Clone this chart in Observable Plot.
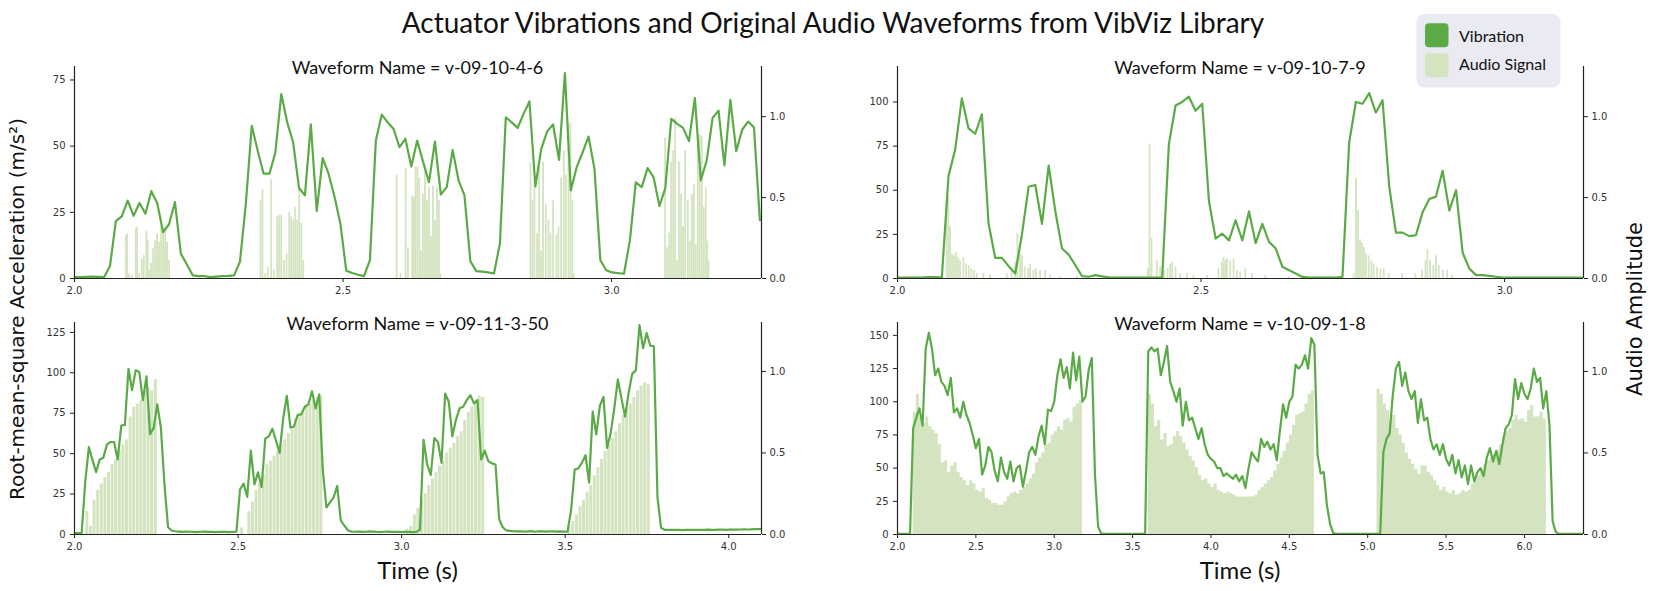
<!DOCTYPE html>
<html><head><meta charset="utf-8">
<script src="https://cdn.jsdelivr.net/npm/d3@7"></script>
<script src="https://cdn.jsdelivr.net/npm/@observablehq/plot@0.6"></script>
<style>
html,body{margin:0;padding:0;background:#fff;}
#root{position:relative;width:1661px;height:591px;overflow:hidden;}
#root svg.plot{position:absolute;}
#overlay{position:absolute;left:0;top:0;pointer-events:none;}
</style></head><body><div id="root"></div>
<script>
// ---------------- DATA ----------------
const panelTitles = ["Waveform Name = v-09-10-4-6", "Waveform Name = v-09-10-7-9", "Waveform Name = v-09-11-3-50", "Waveform Name = v-10-09-1-8"];
const legendLabels = ["Vibration", "Audio Signal"];

// Panel 1 (v-09-10-4-6)
const p1Start = 2.0, p1Step = 0.011;
const p1Vib = [0.5,0.5,0.6,0.7,0.6,0.5,4.6,21.7,23.5,29.4,23.7,28.5,24.5,33.0,28.5,17.5,20.5,28.9,9.4,5.4,
1.2,0.9,0.9,0.5,0.7,0.9,1.0,1.2,6.3,28.3,57.7,48.4,39.6,39.6,47.7,69.7,59.0,51.5,34.2,31.4,
58.2,25.5,45.5,39.6,31.0,20.7,2.9,2.1,1.4,0.9,6.9,52.1,61.9,59.0,56.5,49.6,52.8,42.3,52.1,44,
36.4,51.7,31.7,34.5,48.6,37.1,31.4,6.5,2.8,2.6,2.3,1.9,13.2,60.9,59.0,56.9,62.2,66.9,34.8,49.0,
55.6,58.2,44.8,77.6,33.3,42.1,47.7,53.6,41.5,6.9,3.1,2.3,2.0,1.8,14.4,36.3,34.5,41.7,38.3,27.4,
34.2,60.3,58.4,56.9,51.9,68.2,37.1,44.6,60.7,63.4,42.7,67.5,48.1,56.2,59.3,57.1,22.0];
const p1AudT = [2.0955,2.098,2.1017,2.1066,2.1141,2.1165,2.1203,2.1252,2.129,2.1339,2.1364,2.1389,2.1426,2.1464,2.1501,2.1538,2.1575,2.1612,2.165,2.1687,2.1724,2.1762,
2.3463,2.35,2.355,2.3599,2.3662,2.3711,2.3773,2.381,2.3848,2.3897,2.3947,2.3997,2.4034,2.4072,2.4109,2.4146,2.4183,2.4221,2.4258,
2.5997,2.6071,2.6164,2.6208,2.6288,2.6319,2.635,2.6382,2.6419,2.645,2.6487,2.6524,2.6561,2.6599,2.6636,2.6673,2.6711,2.6748,2.6785,2.681,
2.849,2.8525,2.8562,2.8612,2.865,2.8687,2.8724,2.8774,2.8823,2.8861,2.891,2.8972,2.901,2.9059,2.9109,2.9146,2.9196,2.9233,2.927,2.9295,
3.0996,3.1033,3.107,3.1108,3.1145,3.1182,3.1219,3.1257,3.1294,3.1331,3.1368,3.1418,3.1455,3.1493,3.153,3.1567,3.1604,3.1641,3.1679,3.1716,3.1753,3.1778,3.1803];
const p1AudA = [0.265,0.276,0.03,0.02,0.306,0.316,0.03,0.122,0.143,0.292,0.235,0.05,0.092,0.184,0.235,0.276,0.224,0.337,0.286,0.316,0.224,0.112,
0.48,0.55,0.03,0.07,0.61,0.05,0.38,0.39,0.39,0.11,0.15,0.41,0.38,0.36,0.44,0.36,0.56,0.34,0.11,
0.64,0.03,0.68,0.19,0.51,0.5,0.69,0.69,0.62,0.17,0.52,0.70,0.48,0.56,0.26,0.57,0.36,0.56,0.48,0.03,
0.71,0.48,0.6,0.28,0.72,0.17,0.72,0.46,0.36,0.28,0.48,0.27,0.32,0.62,0.79,0.64,0.96,0.96,0.48,0.03,
0.87,0.19,0.28,0.72,0.79,0.99,0.11,0.72,0.52,0.32,0.79,0.48,0.23,0.52,0.58,0.21,0.89,0.89,0.88,0.44,0.56,0.23,0.11];

// Panel 2 (v-09-10-7-9)
const p2Start = 1.996, p2Step = 0.011;
const p2Vib = [0.5,0.5,0.5,0.5,0.5,0.8,0.8,0.5,58,73,102,85,82,93,31,11.7,11.7,7,2.8,25,
52,53,31,64,38,17,13.5,7.5,1.3,1.0,1.9,1.2,0.6,0.5,0.5,0.5,0.5,0.5,0.5,0.5,
0.5,76,98,100,103,95,99,44,22.6,25.4,21.6,33,21.6,38,20,31,20.7,17,6.6,4.7,
2.8,0.9,0.5,0.5,0.5,0.5,0.5,1,77,100,99,105,94,101,52,26,26,24,24.5,37.6,
45,46.4,61,38.5,50,14.5,5.6,1.9,1.9,1.5,1.0,0.5,0.5,0.5,0.5,0.5,0.5,0.5,0.5,0.5,
0.5,0.5,0.5,0.5];
const p2AudT = [2.081,2.0837,2.0865,2.0898,2.0931,2.0964,2.0997,2.103,2.1085,2.1129,2.1173,2.1217,2.1261,2.1305,2.1415,2.1525,2.18,2.188,2.1937,2.1975,
2.2019,2.2052,2.2096,2.2151,2.2184,2.2239,2.2283,2.2349,2.2432,2.2515,2.268,2.2954,2.3229,2.3503,2.3777,2.4052,2.4124,2.4151,2.4184,2.4272,
2.4327,2.4393,2.4448,2.4492,2.4525,2.458,2.4657,2.4767,2.4876,2.5096,2.5288,2.5343,2.5371,2.5398,2.5426,2.5481,2.5536,2.5591,2.5646,2.5728,
2.5838,2.6058,2.6443,2.6992,2.7514,2.7553,2.7586,2.7619,2.7652,2.7685,2.7718,2.7762,2.7806,2.7844,2.79,2.7954,2.8009,2.8092,2.8312,2.8531,
2.8641,2.8696,2.8729,2.8773,2.8828,2.8872,2.8916,2.8982,2.9053,2.9136,2.9465];
const p2AudA = [0.48,0.51,0.32,0.15,0.14,0.16,0.13,0.11,0.13,0.09,0.08,0.06,0.05,0.03,0.03,0.02,0.03,0.05,0.1,0.28,
0.15,0.14,0.07,0.06,0.09,0.05,0.06,0.05,0.05,0.02,0.01,0.01,0.01,0.01,0.01,0.01,0.06,0.83,0.25,0.11,
0.07,0.05,0.06,0.09,0.1,0.07,0.03,0.03,0.02,0.02,0.06,0.1,0.13,0.11,0.12,0.11,0.12,0.05,0.04,0.06,
0.03,0.02,0.01,0.01,0.03,0.62,0.42,0.24,0.22,0.19,0.15,0.14,0.11,0.09,0.07,0.06,0.06,0.03,0.03,0.03,
0.05,0.11,0.18,0.11,0.08,0.14,0.08,0.05,0.05,0.02,0.01];

// Panel 3 (v-09-11-3-50)
const p3Start = 2.0, p3Step = 0.011;
const p3Vib = [0.8,0.8,1.0,33,54,46,38.6,46.4,47.4,55.6,57.2,57.2,46.4,67.4,67.8,102.5,89.3,101.5,100.5,83.1,
97.8,62.1,65.8,80.5,66.2,31,4.5,2.5,2.0,1.8,1.6,1.8,1.7,1.6,1.5,1.7,1.8,1.6,1.7,1.5,
1.6,1.7,1.6,1.5,1.6,1.7,28,31.5,23.3,51.9,31,38.4,29.4,59.2,60.7,65.4,58,50.5,71.9,85.8,
66.2,66.8,73.9,74.3,79,80.5,88.6,78,86.6,40,16.7,19.8,22.9,30,8.6,5.5,2.5,1.8,1.7,1.8,
1.6,1.7,1.9,1.8,1.6,1.5,1.7,1.8,1.6,1.7,1.6,1.5,1.7,1.6,1.5,1.6,3,58.6,43.3,36.8,
59.6,57.2,44.3,87.2,82.1,60.7,70.9,78,79,83.1,86.2,81.1,83.1,46.4,51.9,45.3,44,43.3,9.6,4.5,
2.5,2.2,2.0,1.9,2.0,1.8,1.9,2.1,1.7,2.0,1.9,1.8,2.0,1.9,1.8,1.9,1.8,1.7,15,40.2,
40.8,44.3,49,32.1,76,61.9,79.7,85,53.5,62.7,78,96,84,72.9,87.8,99.5,101.5,129.5,115.2,124.6,
116.8,116.4,22.9,4.1,2.9,2.9,2.8,2.8,2.9,2.7,2.8,2.8,2.9,2.9,2.8,2.9,3.0,2.9,2.9,3.0,
3.0,2.9,3.0,3.1,3.0,3.1,3.2,3.1,3.2,3.3,3.3,3.4];
const p3Aud = [0,0,0,0.14,0.05,0.21,0.27,0.31,0.35,0.38,0.43,0.46,0.51,0.55,0.58,0.72,0.78,0.80,0.82,0.88,
0.90,0.88,0.95,0,0,0,0,0,0,0,0,0,0,0,0,0,0,0,0,0,
0,0,0,0,0,0,0.04,0,0.14,0.20,0.27,0.31,0.37,0.43,0.45,0.48,0.51,0.55,0.58,0.62,
0.66,0.71,0.74,0.76,0.79,0.80,0.82,0.84,0.85,0,0,0,0,0,0,0,0,0,0,0,
0,0,0,0,0,0,0,0,0,0,0,0,0.03,0.05,0.12,0.16,0.21,0.25,0.30,0.34,
0.38,0.42,0.45,0.50,0.53,0.56,0.60,0.63,0.70,0.75,0.78,0.82,0.85,0.84,0,0,0,0,0,0,
0,0,0,0,0,0,0,0,0,0,0,0,0,0,0,0,0,0.04,0.08,0.12,
0.17,0.21,0.26,0.30,0.36,0.41,0.46,0.51,0.55,0.59,0.63,0.68,0.73,0.77,0.80,0.84,0.88,0.91,0.93,0.92];

// Panel 4 (v-10-09-1-8)
const p4Start = 2.0, p4Step = 0.02;
const p4Vib = [0.5,0.5,0.5,0.5,0.5,80,88,95,82,140,152,140,120,125,115,112,105,118,92,95,
88,100,90,84,75,65,72,45,52,66,62,48,40,58,47,42,55,40,50,52,
36,48,62,66,60,74,82,68,94,93,100,120,132,118,126,110,137,116,134,100,
104,124,133,45,6,0.5,0.5,0.5,0.5,0.5,0.5,0.5,0.5,0.5,0.5,0.5,0.5,0.5,0.5,0.5,
138,141,138,140,120,130,142,115,108,100,110,82,100,86,88,80,72,80,68,60,
57,55,50,50,44,46,44,42,45,40,44,35,50,62,58,55,72,66,70,64,
68,56,78,98,88,100,104,128,125,128,135,125,148,143,60,46,47,22,8,1,
0.5,0.5,0.5,0.5,0.5,0.5,0.5,0.5,0.5,0.5,0.5,0.5,0.5,0.5,0.5,62,72,76,105,125,
130,112,122,108,102,108,84,102,86,88,72,64,68,60,68,57,52,60,46,56,
43,52,38,52,40,47,50,44,58,65,55,63,53,68,80,83,90,117,102,114,
106,102,110,125,115,118,95,108,82,10,2,0.5,0.5,0.5,0.5,0.5,0.5,0.5,0.5,0.5];
const p4Aud = [0,0,0,0,0,0.75,0.86,0.72,0.68,0.72,0.66,0.64,0.62,0.55,0.44,0.45,0.38,0.42,0.44,0.38,
0.35,0.33,0.30,0.33,0.31,0.27,0.26,0.28,0.22,0.21,0.19,0.19,0.18,0.18,0.20,0.23,0.25,0.26,0.25,0.27,
0.29,0.31,0.34,0.37,0.44,0.47,0.50,0.55,0.56,0.61,0.63,0.66,0.64,0.70,0.71,0.69,0.78,0.80,0.82,0,
0,0,0,0,0,0,0,0,0,0,0,0,0,0,0,0,0,0,0,0,
0.86,0.80,0.66,0.70,0.58,0.62,0.54,0.55,0.60,0.63,0.60,0.56,0.52,0.48,0.45,0.41,0.36,0.33,0.34,0.31,
0.29,0.31,0.27,0.26,0.25,0.26,0.25,0.24,0.23,0.23,0.23,0.23,0.23,0.23,0.24,0.27,0.29,0.31,0.33,0.35,
0.39,0.43,0.47,0.51,0.56,0.61,0.67,0.73,0.74,0.75,0.80,0.86,0.88,0,0,0,0,0,0,0,
0,0,0,0,0,0,0,0,0,0,0,0,0,0.89,0.86,0.80,0.76,0.70,0.73,0.65,
0.61,0.56,0.50,0.46,0.43,0.40,0.37,0.42,0.42,0.38,0.36,0.33,0.30,0.27,0.29,0.26,0.25,0.27,0.24,0.25,
0.27,0.26,0.27,0.31,0.35,0.36,0.40,0.43,0.45,0.47,0.49,0.51,0.55,0.60,0.63,0.65,0.70,0.73,0.70,0.71,
0.69,0.76,0.79,0.72,0.72,0.75,0.71,0,0,0,0,0,0,0,0,0,0,0,0,0];

// Axis settings per panel
const xDomains = [[2.0, 3.279], [2.0, 3.13], [2.0, 4.10], [2.0, 6.377]];
const yMaxes = [80.1, 120.1, 131.1, 159.7];
const audMaxes = [1.31, 1.31, 1.30, 1.30];
const xTickSets = [[2.0, 2.5, 3.0], [2.0, 2.5, 3.0], [2.0, 2.5, 3.0, 3.5, 4.0], [2.0, 2.5, 3.0, 3.5, 4.0, 4.5, 5.0, 5.5, 6.0]];
const yTickSets = [[0, 25, 50, 75], [0, 25, 50, 75, 100], [0, 25, 50, 75, 100, 125], [0, 25, 50, 75, 100, 125, 150]];
const audTicks = [0.0, 0.5, 1.0];

// ---------------- STYLE / LAYOUT ----------------
const VIB = "#5aab46", AUD = "#d4e4c0", INK = "#222";
const frames = [
  {x0: 74, x1: 761, y0: 66, y1: 278},
  {x0: 897, x1: 1583, y0: 66, y1: 278},
  {x0: 74, x1: 761, y0: 322, y1: 534},
  {x0: 897, x1: 1583, y0: 322, y1: 534}
];
const ML = 60, MR = 45, MT = 10, MB = 30;

const root = document.getElementById("root");

function series(start, step, vals) {
  return vals.map((v, i) => ({t: start + i * step, v}));
}
function spikes(ts, as) {
  return ts.map((t, i) => ({t, a: as[i]})).filter(d => d.a != null);
}

const vibData = [
  series(p1Start, p1Step, p1Vib),
  series(p2Start, p2Step, p2Vib),
  series(p3Start, p3Step, p3Vib),
  series(p4Start, p4Step, p4Vib)
];

function makePanel(idx) {
  const f = frames[idx];
  const yMax = yMaxes[idx], k = yMax / audMaxes[idx];
  const xd = xDomains[idx];
  let audMark;
  if (idx === 0 || idx === 1) {
    const d = idx === 0 ? spikes(p1AudT, p1AudA) : spikes(p2AudT, p2AudA);
    audMark = Plot.ruleX(d, {x: "t", y1: 0, y2: dd => dd.a * k, stroke: AUD, strokeWidth: 1.8, clip: true});
  } else if (idx === 2) {
    const d = p3Aud.map((a, i) => ({t: p3Start + i * p3Step, a})).filter(dd => dd.a > 0);
    audMark = Plot.rect(d, {x1: "t", x2: dd => dd.t + p3Step, y1: 0, y2: dd => dd.a * k, fill: AUD, insetLeft: 0.6, clip: true});
  } else {
    const d = p4Aud.map((a, i) => ({t: p4Start + i * p4Step, a}));
    audMark = Plot.areaY(d, {x: "t", y1: 0, y2: dd => dd.a * k, fill: AUD, curve: "step-after", clip: true});
  }
  const chart = Plot.plot({
    width: (f.x1 - f.x0) + ML + MR,
    height: (f.y1 - f.y0) + MT + MB,
    marginLeft: ML, marginRight: MR, marginTop: MT, marginBottom: MB,
    x: {domain: xd},
    y: {domain: [0, yMax]},
    style: {fontFamily: "DejaVu Sans, sans-serif", fontSize: "10px", color: "#333", background: "transparent", overflow: "visible"},
    marks: [
      audMark,
      Plot.line(vibData[idx], {x: "t", y: "v", stroke: VIB, strokeWidth: 2.2, clip: true}),
      Plot.ruleX([xd[0], xd[1]], {stroke: INK, strokeWidth: 1.2}),
      Plot.ruleY([0], {stroke: INK, strokeWidth: 1.2}),
      Plot.axisX({ticks: xTickSets[idx], tickFormat: d3.format(".1f"), tickSize: 4, tickPadding: 4, label: null, stroke: INK}),
      Plot.axisY({ticks: yTickSets[idx], tickFormat: d3.format("d"), tickSize: 4, tickPadding: 5, label: null, stroke: INK}),
      Plot.axisY({anchor: "right", ticks: audTicks.map(a => a * k), tickFormat: d => (d / k).toFixed(1), tickSize: 4, tickPadding: 4, label: null, stroke: INK})
    ]
  });
  chart.classList.add("plot");
  chart.style.left = (f.x0 - ML) + "px";
  chart.style.top = (f.y0 - MT) + "px";
  root.appendChild(chart);
}
[0, 1, 2, 3].forEach(makePanel);

// ---------------- OVERLAY TEXT + LEGEND ----------------
const ov = d3.select(root).append("svg").attr("id", "overlay").attr("width", 1661).attr("height", 591);
const HUM = "Lato, 'Open Sans', sans-serif";
ov.append("text").attr("x", 833).attr("y", 32.7).attr("text-anchor", "middle")
  .style("font-family", HUM).style("font-size", "28px").attr("fill", "#111")
  .text("Actuator Vibrations and Original Audio Waveforms from VibViz Library");
frames.forEach((f, i) => {
  ov.append("text").attr("x", (f.x0 + f.x1) / 2).attr("y", f.y0 + 8).attr("text-anchor", "middle")
    .style("font-family", HUM).style("font-size", "18px").attr("fill", "#111").text(panelTitles[i]);
});
[frames[2], frames[3]].forEach(f => {
  ov.append("text").attr("x", (f.x0 + f.x1) / 2).attr("y", 578.7).attr("text-anchor", "middle")
    .style("font-family", HUM).style("font-size", "24px").attr("fill", "#111").text("Time (s)");
});
ov.append("text").attr("transform", "translate(17,309) rotate(-90)").attr("text-anchor", "middle")
  .attr("dominant-baseline", "central")
  .style("font-family", "DejaVu Sans, sans-serif").style("font-size", "20px").attr("fill", "#111")
  .text("Root-mean-square Acceleration (m/s²)");
ov.append("text").attr("transform", "translate(1635,309) rotate(-90)").attr("text-anchor", "middle")
  .attr("dominant-baseline", "central")
  .style("font-family", "DejaVu Sans, sans-serif").style("font-size", "21px").attr("fill", "#111")
  .text("Audio Amplitude");
// legend
ov.append("rect").attr("x", 1416.5).attr("y", 14).attr("width", 144).attr("height", 73.5).attr("rx", 8).attr("fill", "#eaeaf2");
[VIB, AUD].forEach((c, i) => {
  ov.append("rect").attr("x", 1425).attr("y", 23.3 + i * 30).attr("width", 23.5).attr("height", 24).attr("rx", 4).attr("fill", c);
  ov.append("text").attr("x", 1459).attr("y", 41.7 + i * 28.5)
    .style("font-family", HUM).style("font-size", "16px").attr("fill", "#111").text(legendLabels[i]);
});
</script></body></html>
